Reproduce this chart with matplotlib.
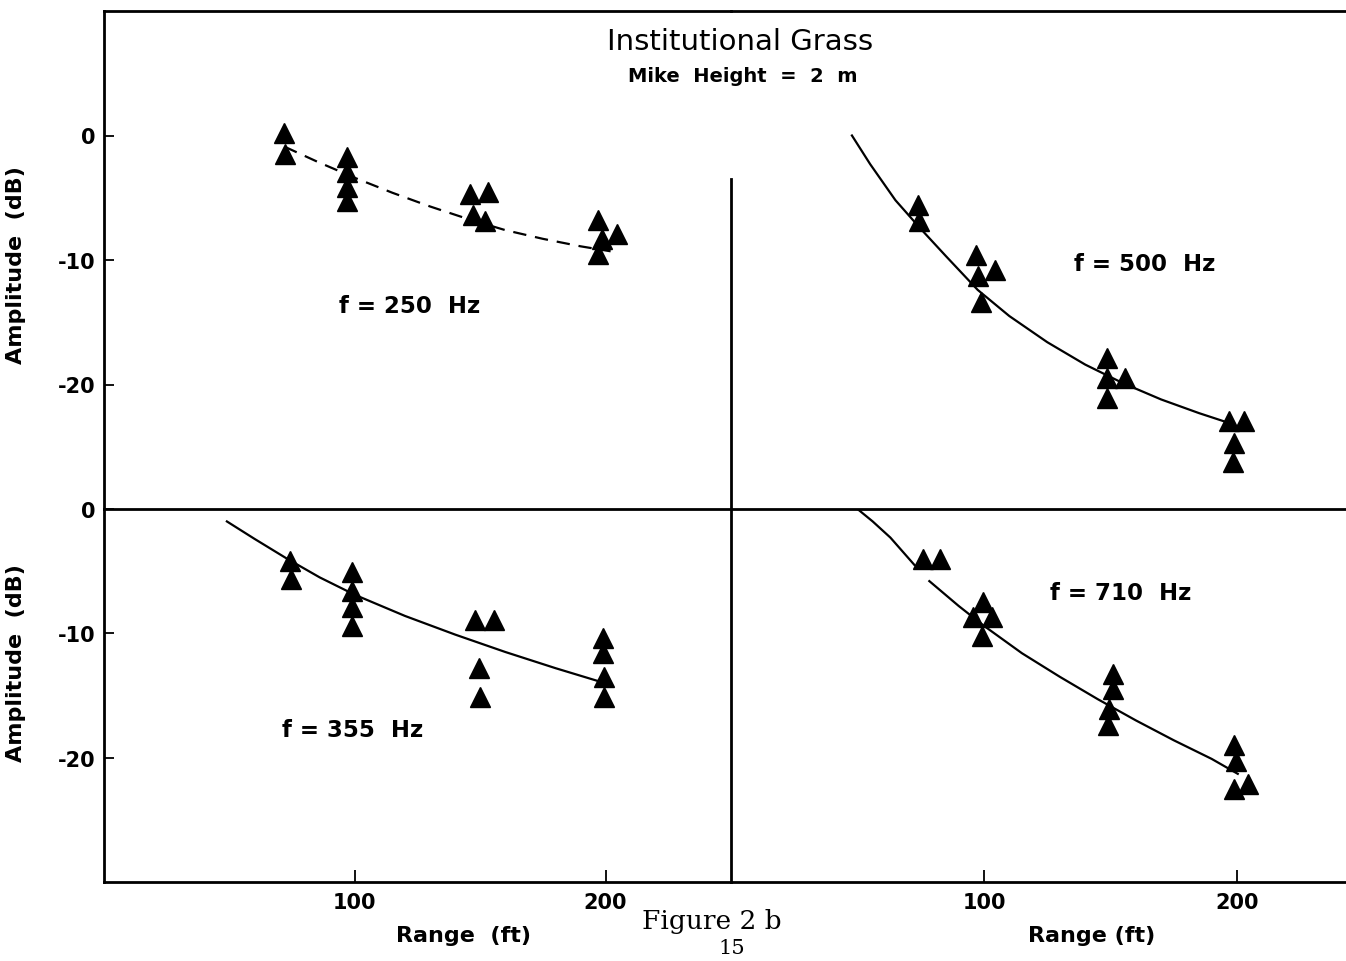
import matplotlib.pyplot as plt

W, H = 1346, 962

# f = 250 Hz (upper left)
r250 = [71.6, 72.1, 96.8, 96.8, 96.8, 96.8, 146.1, 153.3, 147.0, 151.8, 197.1, 204.4, 198.4, 197.1]
a250 = [0.2, -1.5, -1.7, -2.9, -4.1, -5.3, -4.7, -4.5, -6.4, -6.9, -6.8, -7.9, -8.3, -9.5]
fit250_r = [72, 85, 100, 115, 130, 145, 160, 175, 190, 202]
fit250_a = [-0.9, -2.1, -3.4, -4.6, -5.7, -6.7, -7.6, -8.3, -8.9, -9.3]

# f = 500 Hz (upper right)
r500 = [73.8, 74.2, 96.8, 97.5, 104.3, 98.8, 148.5, 148.5, 155.7, 148.5, 197.0, 202.9, 198.7, 198.3]
a500 = [-5.6, -6.9, -9.6, -11.3, -10.8, -13.4, -17.9, -19.5, -19.5, -21.1, -22.9, -22.9, -24.7, -26.2]
fit500_r = [47.8, 55, 65, 75, 85, 97.5, 110, 125, 140, 155, 170, 185, 197]
fit500_a = [0.0, -2.3, -5.2, -7.5, -9.7, -12.4, -14.5, -16.6, -18.4, -19.9, -21.2, -22.3, -23.1]

# f = 355 Hz (lower left)
r355 = [74.0, 74.6, 98.8, 98.8, 98.8, 98.8, 147.9, 155.6, 149.7, 150.0, 198.8, 198.8, 199.2, 199.5]
a355 = [-4.15, -5.6, -5.1, -6.6, -7.9, -9.4, -8.9, -8.9, -12.8, -15.1, -10.4, -11.6, -13.5, -15.1]
fit355_r = [49, 60, 73, 86, 100, 120, 140, 160, 180, 198]
fit355_a = [-1.0, -2.4, -4.0, -5.5, -6.9, -8.6, -10.1, -11.5, -12.8, -13.9]

# f = 710 Hz (lower right) -- the drawn curve has a short break near 75 ft
r710 = [75.8, 82.8, 99.5, 95.7, 103.2, 99.2, 150.9, 150.9, 149.5, 148.9, 198.9, 199.6, 198.9, 204.5]
a710 = [-4.0, -4.0, -7.5, -8.7, -8.7, -10.2, -13.3, -14.5, -16.1, -17.4, -19.0, -20.3, -22.5, -22.1]
fit710a_r = [50, 56, 63, 72.5]
fit710a_a = [0.0, -1.0, -2.3, -4.5]
fit710b_r = [78.4, 90, 100, 115, 130, 145, 160, 175, 190, 200.3]
fit710b_a = [-5.8, -7.8, -9.4, -11.6, -13.5, -15.3, -17.0, -18.6, -20.1, -21.3]

xticks = [100, 200]
yticks = [0, -10, -20]
ytick_labels = ["0", "-10", "-20"]

lab = dict(family="DejaVu Sans", fontweight="bold")

fig = plt.figure(figsize=(W / 100, H / 100), dpi=100)


def px_axes(x0, x1, ytop, ybot):
    return fig.add_axes([x0 / W, 1 - ybot / H, (x1 - x0) / W, (ybot - ytop) / H])


ax_tl = px_axes(104, 731, 12, 510)
ax_tr = px_axes(731, 1346, 12, 510)
ax_bl = px_axes(104, 731, 510, 883)
ax_br = px_axes(731, 1346, 510, 883)

for ax in (ax_tl, ax_tr):
    ax.set_ylim(-30, 10)
for ax in (ax_bl, ax_br):
    ax.set_ylim(-30, 0)
for ax in (ax_tl, ax_bl):
    ax.set_xlim(0, 250)
for ax in (ax_tr, ax_br):
    ax.set_xlim(0, 615 / 2.53)

for ax in (ax_tl, ax_tr, ax_bl, ax_br):
    ax.patch.set_alpha(0)
    for s in ax.spines.values():
        s.set_linewidth(2.0)
        s.set_color("black")
    ax.spines["right"].set_visible(False)
    ax.tick_params(direction="in", length=7, width=1.3, pad=6, labelsize=15)

ax_tr.spines["left"].set_visible(False)
ax_bl.spines["top"].set_visible(False)
ax_br.spines["top"].set_visible(False)

# y axes
for ax in (ax_tl, ax_bl):
    ax.set_yticks(yticks)
    ax.set_yticklabels(ytick_labels, **lab)
for ax in (ax_tr, ax_br):
    ax.set_yticks([])

# x axes
for ax in (ax_tl, ax_tr):
    ax.set_xticks([])
for ax in (ax_bl, ax_br):
    ax.set_xticks(xticks)
    ax.set_xticklabels([str(v) for v in xticks], **lab)
    ax.tick_params(axis="x", length=9, pad=7)

# divider between the right-hand panels only reaches part way up
ax_tr.plot([0, 0], [-3.5, -30], color="black", lw=2.0, clip_on=False)

tri = dict(marker="^", ms=14, color="black", ls="none", zorder=3)
curve = dict(color="black", lw=1.6)

ax_tl.plot(fit250_r, fit250_a, ls=(0, (6, 4)), **curve)
ax_tl.plot(r250, a250, **tri)
ax_tr.plot(fit500_r, fit500_a, **curve)
ax_tr.plot(r500, a500, **tri)
ax_bl.plot(fit355_r, fit355_a, **curve)
ax_bl.plot(r355, a355, **tri)
ax_br.plot(fit710a_r, fit710a_a, **curve)
ax_br.plot(fit710b_r, fit710b_a, **curve)
ax_br.plot(r710, a710, **tri)

# frequency labels
flab = dict(ha="center", va="center", fontsize=16.5, **lab)
ax_tl.text(0.488, 0.408, "f = 250  Hz", transform=ax_tl.transAxes, **flab)
ax_tr.text(0.673, 0.492, "f = 500  Hz", transform=ax_tr.transAxes, **flab)
ax_bl.text(0.396, 0.408, "f = 355  Hz", transform=ax_bl.transAxes, **flab)
ax_br.text(0.634, 0.775, "f = 710  Hz", transform=ax_br.transAxes, **flab)

# axis titles
ax_tl.set_ylabel("Amplitude  (dB)", fontsize=16, **lab)
ax_tl.yaxis.set_label_coords(-0.125, 0.492)
ax_bl.set_ylabel("Amplitude  (dB)", fontsize=16, **lab)
ax_bl.yaxis.set_label_coords(-0.125, 0.59)
ax_bl.set_xlabel("Range  (ft)", fontsize=16, **lab)
ax_bl.xaxis.set_label_coords(0.574, -0.115)
ax_br.set_xlabel("Range (ft)", fontsize=16, **lab)
ax_br.xaxis.set_label_coords(0.587, -0.115)

fig.text(740 / W, 1 - 42 / H, "Institutional Grass", ha="center", va="center",
         fontsize=21, family="DejaVu Sans")
fig.text(743 / W, 1 - 77 / H, "Mike  Height  =  2  m", ha="center", va="center", fontsize=14, **lab)

fig.text(712 / W, 1 - 922 / H, "Figure 2 b", ha="center", va="center", fontsize=19, family="DejaVu Serif")
fig.text(732 / W, 1 - 949 / H, "15", ha="center", va="center", fontsize=15, family="DejaVu Serif")

fig.savefig("out.png", dpi=100)
